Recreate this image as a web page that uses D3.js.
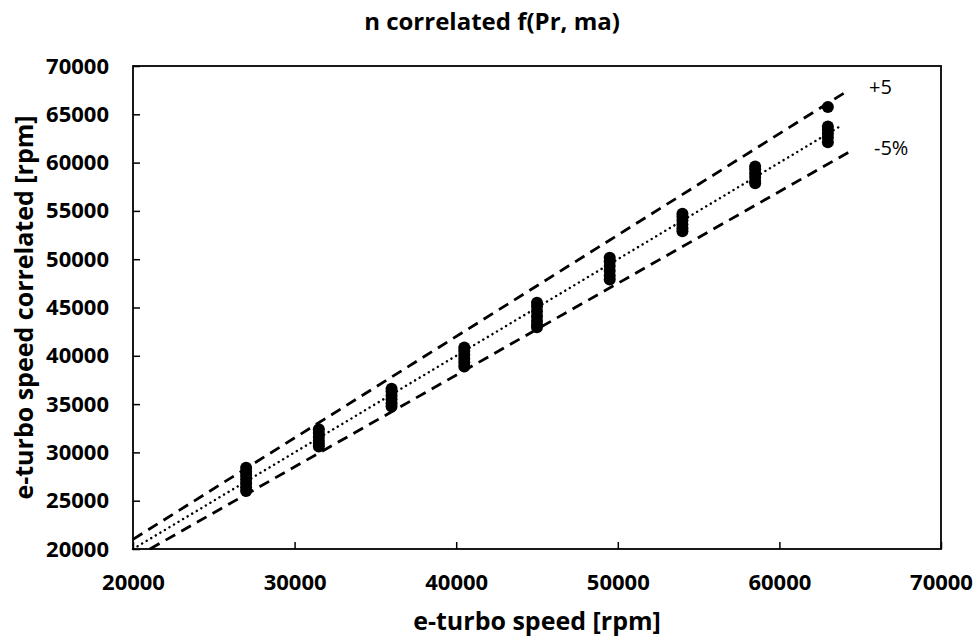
<!DOCTYPE html>
<html>
<head>
<meta charset="utf-8">
<script src="https://cdn.jsdelivr.net/npm/d3@7"></script>
<style>
  body { margin: 0; background: #fff; }
  text { font-family: "Open Sans", sans-serif; fill: #000; }
</style>
</head>
<body>
<svg id="chart"></svg>
<script>
const width = 977
const height = 642
const margin = { top: 66, right: 36, bottom: 93, left: 133 }

const xTicks = [20000, 30000, 40000, 50000, 60000, 70000]
const yTicks = [20000, 25000, 30000, 35000, 40000, 45000, 50000, 55000, 60000, 65000, 70000]

// measured speed steps and the correlated values read at each step
const speedSteps = [27000, 31500, 36000, 40500, 45000, 49500, 54000, 58500, 63000]
const correlated = [
  [28400, 28000, 27600, 27200, 26800, 26400, 26000],
  [32400, 32000, 31600, 31200, 30900, 30600],
  [36600, 36300, 35900, 35500, 35100, 34750],
  [40850, 40500, 40100, 39700, 39300, 38900],
  [45500, 45100, 44600, 44100, 43600, 43200, 42950],
  [50150, 49800, 49300, 48800, 48300, 47900],
  [54700, 54400, 54000, 53600, 53200, 52900],
  [59600, 59300, 58900, 58500, 58100, 57850],
  [65750, 63750, 63400, 63000, 62600, 62100]
]

// +5% / -5% bands and the 1:1 line
const upperBand = [[20000, 21000], [64000, 67200]]
const lowerBand = [[21050, 20000], [64500, 61275]]
const identity  = [[20000, 20000], [63800, 63800]]

const svg = d3.select('#chart')
  .attr('width', width)
  .attr('height', height)

const x = d3.scaleLinear()
  .domain([20000, 70000])
  .range([margin.left, width - margin.right])

const y = d3.scaleLinear()
  .domain([20000, 70000])
  .range([height - margin.bottom, margin.top])

const plotW = width - margin.right - margin.left
const plotH = height - margin.bottom - margin.top

// axes, ticks pointing inward
svg.append('g')
  .attr('transform', `translate(0,${height - margin.bottom})`)
  .call(d3.axisBottom(x).tickValues(xTicks).tickFormat(d3.format('d'))
    .tickSizeInner(-7).tickSizeOuter(0).tickPadding(25))
  .call(g => g.select('.domain').remove())
  .call(g => g.selectAll('line').attr('stroke-width', 1.5))
  .call(g => g.selectAll('text')
    .style('font-size', '22px').style('font-weight', 'bold').attr('font-family', null))

svg.append('g')
  .attr('transform', `translate(${margin.left},0)`)
  .call(d3.axisLeft(y).tickValues(yTicks).tickFormat(d3.format('d'))
    .tickSizeInner(-7).tickSizeOuter(0).tickPadding(24))
  .call(g => g.select('.domain').remove())
  .call(g => g.selectAll('line').attr('stroke-width', 1.5))
  .call(g => g.selectAll('text')
    .style('font-size', '22px').style('font-weight', 'bold').attr('font-family', null))

svg.append('rect')
  .attr('x', margin.left)
  .attr('y', margin.top)
  .attr('width', plotW)
  .attr('height', plotH)
  .attr('fill', 'none')
  .attr('stroke', '#000')
  .attr('stroke-width', 1.8)

const line = d3.line().x(d => x(d[0])).y(d => y(d[1]))

svg.append('path')
  .attr('d', line(upperBand))
  .attr('fill', 'none').attr('stroke', '#000')
  .attr('stroke-width', 2.8).attr('stroke-dasharray', '11,7')

svg.append('path')
  .attr('d', line(lowerBand))
  .attr('fill', 'none').attr('stroke', '#000')
  .attr('stroke-width', 2.8).attr('stroke-dasharray', '11,7')

svg.append('path')
  .attr('d', line(identity))
  .attr('fill', 'none').attr('stroke', '#000')
  .attr('stroke-width', 2.4).attr('stroke-linecap', 'round')
  .attr('stroke-dasharray', '0.1,5.2')

// points
const points = speedSteps.flatMap((s, i) => correlated[i].map(v => [s, v]))

svg.append('g')
  .selectAll('circle')
  .data(points)
  .join('circle')
    .attr('cx', d => x(d[0]))
    .attr('cy', d => y(d[1]))
    .attr('r', 6)
    .attr('fill', '#000')

// band labels
svg.append('text')
  .attr('x', 869).attr('y', 94)
  .style('font-size', '20px')
  .text('+5')

svg.append('text')
  .attr('x', 874).attr('y', 155)
  .style('font-size', '20px')
  .text('-5%')

// titles
svg.append('text')
  .attr('x', 492).attr('y', 30)
  .attr('text-anchor', 'middle')
  .style('font-size', '24px').style('font-weight', 'bold')
  .text('n correlated f(Pr, ma)')

svg.append('text')
  .attr('x', margin.left + plotW / 2).attr('y', 630)
  .attr('text-anchor', 'middle')
  .style('font-size', '25px').style('font-weight', 'bold')
  .text('e-turbo speed [rpm]')

svg.append('text')
  .attr('transform', `translate(33,${margin.top + plotH / 2}) rotate(-90)`)
  .attr('text-anchor', 'middle')
  .style('font-size', '25px').style('font-weight', 'bold')
  .text('e-turbo speed correlated [rpm]')
</script>
</body>
</html>
